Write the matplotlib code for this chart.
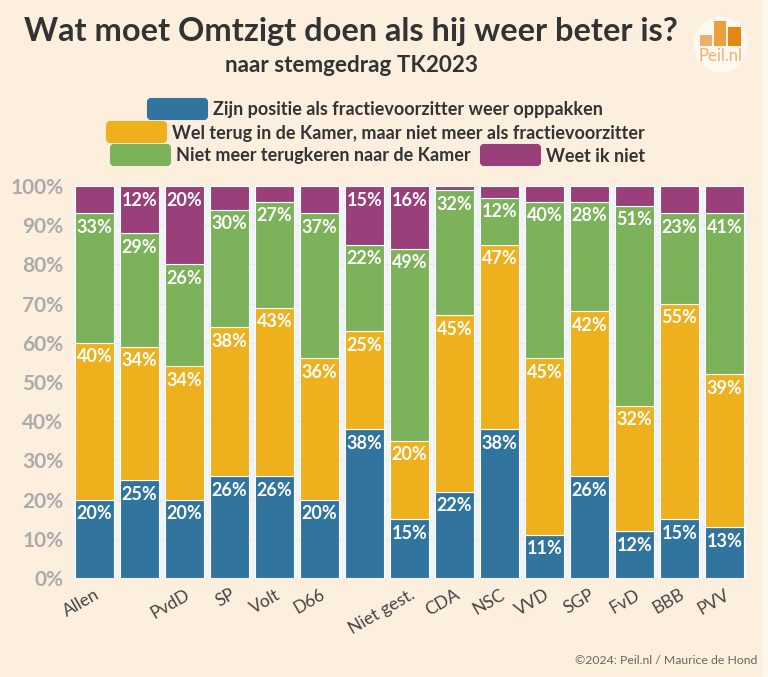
import matplotlib
matplotlib.use('Agg')
from matplotlib import pyplot as plt
from matplotlib.patches import FancyBboxPatch, Rectangle, Ellipse
import numpy as np

# values (two bars have no visible category label)
categories = ['Allen', '', 'PvdD', 'SP', 'Volt', 'D66', '', 'Niet gest.', 'CDA', 'NSC', 'VVD', 'SGP', 'FvD', 'BBB', 'PVV']
positie = [20, 25, 20, 26, 26, 20, 38, 15, 22, 38, 11, 26, 12, 15, 13]
terug = [40, 34, 34, 38, 43, 36, 25, 20, 45, 47, 45, 42, 32, 55, 39]
niet_meer = [33, 29, 26, 30, 27, 37, 22, 49, 32, 12, 40, 28, 51, 23, 41]
weet_niet = [7, 12, 20, 6, 4, 7, 15, 16, 1, 3, 4, 4, 5, 7, 7]
yticks = [0, 10, 20, 30, 40, 50, 60, 70, 80, 90, 100]

series_names = ['Zijn positie als fractievoorzitter weer opppakken',
                'Wel terug in de Kamer, maar niet meer als fractievoorzitter',
                'Niet meer terugkeren naar de Kamer',
                'Weet ik niet']
series_colors = ['#31759F', '#EEB01D', '#7CB259', '#99407A']
min_label = 11

W, H = 768, 677
BG = '#FDEFDD'
plt.rcParams['font.family'] = ['Lato', 'DejaVu Sans']

fig = plt.figure(figsize=(W / 100, H / 100), dpi=100, facecolor=BG)


def fx(px):
    return px / W


def fy(py):
    return 1 - py / H


# plot area in pixels: x 73..747, y 186..578
ax = fig.add_axes([fx(73), fy(578), fx(747 - 73), (578 - 186) / H])
ax.set_facecolor('#F1F4F7')

x = np.arange(len(categories))
bottom = np.zeros(len(categories))
for values, color in zip([positie, terug, niet_meer, weet_niet], series_colors):
    ax.bar(x, values, bottom=bottom, width=0.87, color=color, edgecolor='white', linewidth=0.8)
    for i, v in enumerate(values):
        if v >= min_label:
            ax.text(i, bottom[i] + v - 3.6, '{}%'.format(v), ha='center', va='center',
                    color='white', fontsize=13, fontweight='bold',
                    bbox=dict(boxstyle='round,pad=0.02', fc=color, ec='none'))
    bottom += np.array(values)

ax.set_xlim(-0.48, 14.5)
ax.set_ylim(0, 100)
ax.set_yticks(yticks)
ax.set_yticklabels(['{}%'.format(t) for t in yticks], color='#ABABAB', fontsize=15, fontweight='bold')
ax.set_xticks(x)
ax.set_xticklabels(categories, rotation=30, ha='right', rotation_mode='anchor', color='#444444', fontsize=12.5)
ax.tick_params(axis='y', length=0, pad=7)
ax.tick_params(axis='x', length=0, pad=6)
ax.yaxis.grid(True, color='#E8E8E8', linewidth=0.8)
ax.set_axisbelow(True)
for side in ax.spines.values():
    side.set_visible(False)

# titles
fig.text(fx(351), fy(32), 'Wat moet Omtzigt doen als hij weer beter is?', ha='center', va='center',
         color='#333333', fontsize=23.4, fontweight='bold')
fig.text(fx(351), fy(65), 'naar stemgedrag TK2023', ha='center', va='center',
         color='#333333', fontsize=16.2, fontweight='bold')

# legend, laid out by hand in three centred rows
for left, y_px, idx in [(146, 109, 0), (105, 132, 1), (109, 155, 2), (479, 155, 3)]:
    fig.add_artist(FancyBboxPatch((left + 2, H - y_px - 10), 59, 20, boxstyle='round,pad=0,rounding_size=3',
                                  fc=series_colors[idx], ec=series_colors[idx], linewidth=1.5,
                                  transform=None))
    fig.text(fx(left + 67), fy(y_px + 1), series_names[idx], ha='left', va='center',
             color='#333333', fontsize=13, fontweight='bold')

# logo
fig.add_artist(Ellipse((721, H - 44.5), 54, 56, fc='#FFF9F2', ec='none', transform=None))
for left, top, wide, col in [(700, 35, 12, '#EDB06A'), (714, 21, 12, '#EC9E3C'), (728, 27, 13, '#E5860F')]:
    fig.add_artist(Rectangle((left, H - 46), wide, 46 - top, fc=col, ec='none', transform=None))
fig.text(fx(721), fy(56), 'Peil.nl', ha='center', va='center', color='#EDB36C', fontsize=12)

# copyright
fig.text(fx(757), fy(661), '©2024: Peil.nl / Maurice de Hond', ha='right', va='center',
         color='#666666', fontsize=8.8)

# lighter strip on the right edge
fig.add_artist(Rectangle((762, 0), 6, H, fc='#FFF6EC', ec='none', transform=None))

plt.savefig('out.png', dpi=100, facecolor=BG)
